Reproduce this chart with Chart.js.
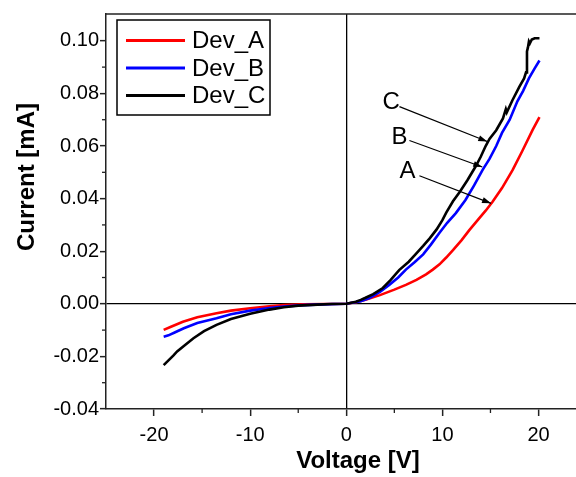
<!DOCTYPE html>
<html><head><meta charset="utf-8">
<script src="https://cdn.jsdelivr.net/npm/chart.js@4/dist/chart.umd.min.js"></script>
<style>html,body{margin:0;padding:0;background:#fff;}#wrap{width:576px;height:477px;position:relative;}</style>
</head><body><div id="wrap"><canvas id="c" width="576" height="477"></canvas></div>
<script>
// ---------------- data ----------------
const seriesNames = ['Dev_A', 'Dev_B', 'Dev_C'];

const devA_V = [-19.0, -18.3, -17.0, -15.5, -13.5, -12.0, -10.0, -8.0, -6.5, -4.5, -2.0, 0, 1.0, 2.0, 3.5, 5.0, 6.2, 7.3, 8.3, 9.0, 9.7, 10.4, 11.1, 12.0, 12.8, 13.8, 14.5, 15.2, 16.2, 17.3, 18.3, 19.4, 20.1];
const devA_I = [-0.0099, -0.0088, -0.0068, -0.0051, -0.0036, -0.0026, -0.0017, -0.0009, -0.0005, -0.0002, -0.00005, 0, 0.0006, 0.0015, 0.0033, 0.0054, 0.0072, 0.0091, 0.0112, 0.0130, 0.0150, 0.0176, 0.0204, 0.0242, 0.0280, 0.0324, 0.0354, 0.0387, 0.0440, 0.0508, 0.0580, 0.0662, 0.0710];

const devB_V = [-19.0, -18.5, -17.8, -16.9, -15.5, -13.5, -12.0, -10.0, -8.0, -6.5, -4.5, -2.5, 0, 1.5, 2.4, 3.5, 4.5, 5.4, 6.2, 7.1, 8.0, 8.8, 9.7, 10.5, 11.4, 12.4, 13.3, 14.2, 14.9, 15.6, 16.2, 17.0, 17.8, 18.4, 19.0, 19.6, 20.1];
const devB_I = [-0.0125, -0.0120, -0.0108, -0.0093, -0.0073, -0.0055, -0.0040, -0.0026, -0.0016, -0.0010, -0.0005, -0.0002, 0, 0.0010, 0.0022, 0.0045, 0.0073, 0.0100, 0.0130, 0.0158, 0.0188, 0.0225, 0.0270, 0.0308, 0.0345, 0.0395, 0.0450, 0.0510, 0.0551, 0.0600, 0.0650, 0.0700, 0.0770, 0.0810, 0.0857, 0.0895, 0.0925];

const devC_V = [-19.0, -18.5, -18.0, -17.6, -16.9, -15.9, -14.8, -13.5, -12.0, -10.0, -8.0, -6.5, -5.0, -3.0, -1.5, 0, 1.0, 1.5, 2.0, 2.8, 3.8, 4.6, 5.5, 6.5, 7.2, 8.0, 8.7, 9.4, 10.0, 10.4, 11.1, 11.8, 12.6, 13.5, 14.0, 14.5, 14.9, 15.6, 16.3, 16.6, 16.7, 17.3, 18.0, 18.5, 18.7, 18.8, 18.9, 19.0, 19.1, 19.3, 19.6, 20.1];
const devC_I = [-0.0233, -0.0215, -0.0197, -0.0181, -0.0160, -0.0131, -0.0104, -0.0080, -0.0058, -0.0038, -0.0022, -0.0013, -0.0007, -0.0003, -0.0001, 0, 0.0008, 0.0015, 0.0023, 0.0037, 0.0060, 0.0090, 0.0128, 0.0160, 0.0188, 0.0220, 0.0250, 0.0283, 0.0318, 0.0347, 0.0390, 0.0425, 0.0470, 0.0525, 0.0560, 0.0600, 0.0627, 0.0660, 0.0705, 0.0740, 0.0728, 0.0775, 0.0825, 0.0857, 0.0880, 0.0960, 0.0975, 0.0997, 0.0990, 0.1005, 0.1010, 0.1010];

const xTicks = [-20, -10, 0, 10, 20];
const xMinorTicks = [-15, -5, 5, 15];
const yTicks = [-0.04, -0.02, 0.00, 0.02, 0.04, 0.06, 0.08, 0.10];
const yMinorTicks = [-0.03, -0.01, 0.01, 0.03, 0.05, 0.07, 0.09];

const annLabels = ['C', 'B', 'A'];
const annTextV = [4.67, 5.53, 6.37];
const annTextI = [0.0768, 0.0635, 0.0506];
const annFromV = [5.53, 6.57, 7.61];
const annFromI = [0.0750, 0.0621, 0.0487];
const annToV = [14.67, 14.15, 15.06];
const annToI = [0.0617, 0.0520, 0.0382];

// ---------------- styles ----------------
const seriesColors = ['#ff0000', '#0000ff', '#000000'];
const FONT = '"Liberation Sans", Arial, sans-serif';
const AXIS_COLOR = '#222';

function pairs(vs, is) { return vs.map((v, k) => ({ x: v, y: is[k] })); }
const allV = [devA_V, devB_V, devC_V];
const allI = [devA_I, devB_I, devC_I];

const datasets = seriesNames.map((n, k) => ({
  label: n,
  data: pairs(allV[k], allI[k]),
  borderColor: seriesColors[k],
  backgroundColor: seriesColors[k],
  borderWidth: 2.6,
  pointRadius: 0,
  showLine: true,
  tension: 0,
  order: 2 - k
}));

const decor = {
  id: 'decor',
  afterDraw(chart) {
    const ctx = chart.ctx, a = chart.chartArea;
    const xs = chart.scales.x, ys = chart.scales.y;
    ctx.save();
    // top border
    ctx.strokeStyle = AXIS_COLOR; ctx.lineWidth = 1.5;
    ctx.beginPath(); ctx.moveTo(a.left, a.top); ctx.lineTo(a.right, a.top); ctx.stroke();
    // minor ticks
    ctx.lineWidth = 1.3;
    xMinorTicks.forEach(v => {
      const px = xs.getPixelForValue(v);
      ctx.beginPath(); ctx.moveTo(px, a.bottom); ctx.lineTo(px, a.bottom + 4); ctx.stroke();
    });
    yMinorTicks.forEach(v => {
      const py = ys.getPixelForValue(v);
      ctx.beginPath(); ctx.moveTo(a.left, py); ctx.lineTo(a.left - 4, py); ctx.stroke();
    });
    // legend
    const lx = 117, ly = 20, lw = 153, lh = 95;
    ctx.fillStyle = '#fff'; ctx.fillRect(lx, ly, lw, lh);
    ctx.strokeStyle = '#000'; ctx.lineWidth = 1.5; ctx.strokeRect(lx, ly, lw, lh);
    ctx.font = '24px ' + FONT; ctx.textBaseline = 'middle'; ctx.textAlign = 'left';
    chart.data.datasets.forEach((d, k) => {
      const y = 40.5 + k * 27.5;
      ctx.strokeStyle = d.borderColor; ctx.lineWidth = 3;
      ctx.beginPath(); ctx.moveTo(126, y); ctx.lineTo(185, y); ctx.stroke();
      ctx.fillStyle = '#000'; ctx.fillText(d.label, 192, y + 1);
    });
    // annotations
    ctx.font = '24px ' + FONT; ctx.textAlign = 'center'; ctx.textBaseline = 'middle';
    annLabels.forEach((t, k) => {
      ctx.fillStyle = '#000';
      ctx.fillText(t, xs.getPixelForValue(annTextV[k]), ys.getPixelForValue(annTextI[k]) + 1);
      const x0 = xs.getPixelForValue(annFromV[k]), y0 = ys.getPixelForValue(annFromI[k]);
      const x1 = xs.getPixelForValue(annToV[k]), y1 = ys.getPixelForValue(annToI[k]);
      ctx.strokeStyle = '#000'; ctx.lineWidth = 1.2;
      ctx.beginPath(); ctx.moveTo(x0, y0); ctx.lineTo(x1, y1); ctx.stroke();
      const ang = Math.atan2(y1 - y0, x1 - x0), L = 9, W = 3;
      ctx.beginPath();
      ctx.moveTo(x1, y1);
      ctx.lineTo(x1 - L * Math.cos(ang) + W * Math.sin(ang), y1 - L * Math.sin(ang) - W * Math.cos(ang));
      ctx.lineTo(x1 - L * Math.cos(ang) - W * Math.sin(ang), y1 - L * Math.sin(ang) + W * Math.cos(ang));
      ctx.closePath(); ctx.fill();
    });
    // axis titles
    ctx.font = 'bold 24px ' + FONT; ctx.fillStyle = '#000';
    ctx.textAlign = 'center'; ctx.textBaseline = 'middle';
    ctx.fillText('Voltage [V]', 358, 461);
    ctx.translate(27, 177); ctx.rotate(-Math.PI / 2);
    ctx.fillText('Current [mA]', 0, 0);
    ctx.restore();
  }
};

new Chart(document.getElementById('c'), {
  type: 'scatter',
  data: { datasets },
  options: {
    responsive: false, animation: false, devicePixelRatio: 1,
    layout: { padding: { top: 14, right: 0, left: 0, bottom: 0 } },
    plugins: { legend: { display: false }, tooltip: { enabled: false }, title: { display: false } },
    scales: {
      x: {
        type: 'linear', min: -25, max: 23.9,
        afterBuildTicks: s => { s.ticks = xTicks.map(v => ({ value: v })); },
        afterFit: s => { s.height = 68; },
        ticks: { color: '#000', font: { family: FONT, size: 20 }, padding: 7, callback: v => String(v), maxRotation: 0, autoSkip: false },
        grid: {
          drawOnChartArea: true, drawTicks: true, tickLength: 7,
          color: c => (c.tick && c.tick.value === 0) ? '#000' : 'rgba(0,0,0,0)',
          lineWidth: 1.3, tickColor: AXIS_COLOR, tickWidth: 1.5
        },
        border: { display: true, color: AXIS_COLOR, width: 1.5 }
      },
      y: {
        type: 'linear', min: -0.04, max: 0.1102,
        afterBuildTicks: s => { s.ticks = yTicks.map(v => ({ value: v })); },
        afterFit: s => { s.width = 106; },
        ticks: { color: '#000', font: { family: FONT, size: 20 }, padding: 1, callback: v => Number(v).toFixed(2), autoSkip: false },
        grid: {
          drawOnChartArea: true, drawTicks: true, tickLength: 6,
          color: c => (c.tick && Math.abs(c.tick.value) < 1e-9) ? '#000' : 'rgba(0,0,0,0)',
          lineWidth: 1.3, tickColor: AXIS_COLOR, tickWidth: 1.5
        },
        border: { display: true, color: AXIS_COLOR, width: 1.5 }
      }
    }
  },
  plugins: [decor]
});
</script></body></html>
